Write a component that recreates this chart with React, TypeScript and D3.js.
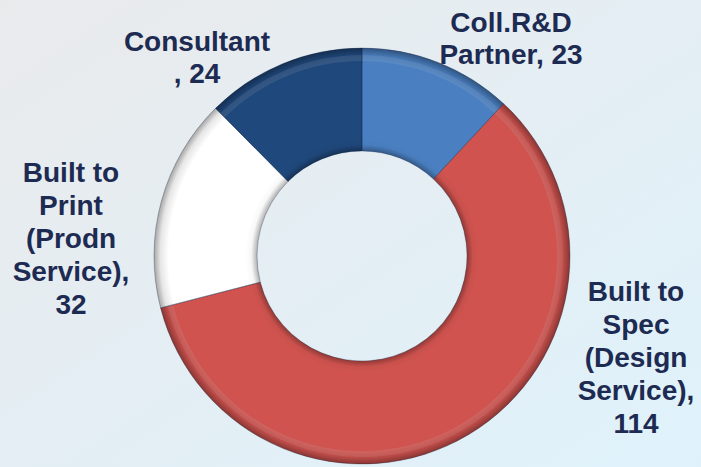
import React from "react";
import * as d3 from "d3";

const categories = ["Coll.R&D Partner", "Built to Spec (Design Service)", "Built to Print (Prodn Service)", "Consultant"];
const values = [23, 114, 32, 24];
const colors = ["#4a80c2", "#d0534f", "#ffffff", "#1f487c"];
const labelLines = [
  ["Coll.R&D", "Partner, 23"],
  ["Built to", "Spec", "(Design", "Service),", "114"],
  ["Built to", "Print", "(Prodn", "Service),", "32"],
  ["Consultant", ", 24"],
];

const W = 701;
const H = 467;
const cx = 362;
const cy = 256;
const rOuter = 208;
const rInner = 105;

const labelPos: [number, number][] = [
  [511, 32],
  [636, 301],
  [71, 182],
  [197, 51],
];
const lineH = [32, 33, 33, 32];

export default function App() {
  const pie = d3
    .pie<number>()
    .sort(null)
    .value((d) => d)
    .startAngle(0)
    .endAngle(2 * Math.PI);
  const arcs = pie(values);
  const arc = d3.arc<d3.PieArcDatum<number>>().innerRadius(rInner).outerRadius(rOuter);
  const rimArc = d3
    .arc<d3.PieArcDatum<number>>()
    .innerRadius(rOuter - 13)
    .outerRadius(rOuter - 7);

  return (
    <svg
      width={W}
      height={H}
      style={{ position: "fixed", left: 0, top: 0, display: "block" }}
    >
      <defs>
        <linearGradient id="bg" x1="0" y1="0" x2="1" y2="1">
          <stop offset="0" stopColor="#e9eaec" />
          <stop offset="1" stopColor="#dff2fb" />
        </linearGradient>
        <radialGradient id="shade" gradientUnits="userSpaceOnUse" cx={0} cy={0} r={rOuter}>
          <stop offset={rInner / rOuter} stopColor="#000" stopOpacity={0.3} />
          <stop offset={(rInner + 6) / rOuter} stopColor="#000" stopOpacity={0.03} />
          <stop offset={(rInner + 12) / rOuter} stopColor="#000" stopOpacity={0} />
          <stop offset={0.93} stopColor="#000" stopOpacity={0} />
          <stop offset={0.97} stopColor="#000" stopOpacity={0.1} />
          <stop offset={1} stopColor="#000" stopOpacity={0.35} />
        </radialGradient>
      </defs>
      <rect x={0} y={0} width={W} height={H} fill="url(#bg)" />
      <g transform={`translate(${cx},${cy})`}>
        {arcs.map((a, i) => (
          <path key={"s" + i} d={arc(a) || ""} fill={colors[i]} />
        ))}
        {arcs.map((a, i) => (
          <path key={"h" + i} d={rimArc(a) || ""} fill="#fff" opacity={0.1} />
        ))}
        {arcs.map((a, i) => (
          <path key={"g" + i} d={arc(a) || ""} fill="url(#shade)" />
        ))}
        {arcs.map((a, i) => (
          <path
            key={"e" + i}
            d={arc(a) || ""}
            fill="none"
            stroke="#0d1f3a"
            strokeOpacity={0.3}
            strokeWidth={1}
          />
        ))}
      </g>
      {labelLines.map((lines, i) => (
        <text
          key={"t" + i}
          x={labelPos[i][0]}
          y={labelPos[i][1]}
          textAnchor="middle"
          fontFamily="'Liberation Sans', Arial, sans-serif"
          fontWeight="bold"
          fontSize={28}
          fill="#1d2b52"
        >
          {lines.map((l, j) => (
            <tspan key={j} x={labelPos[i][0]} y={labelPos[i][1] + j * lineH[i]}>
              {l}
            </tspan>
          ))}
        </text>
      ))}
    </svg>
  );
}
